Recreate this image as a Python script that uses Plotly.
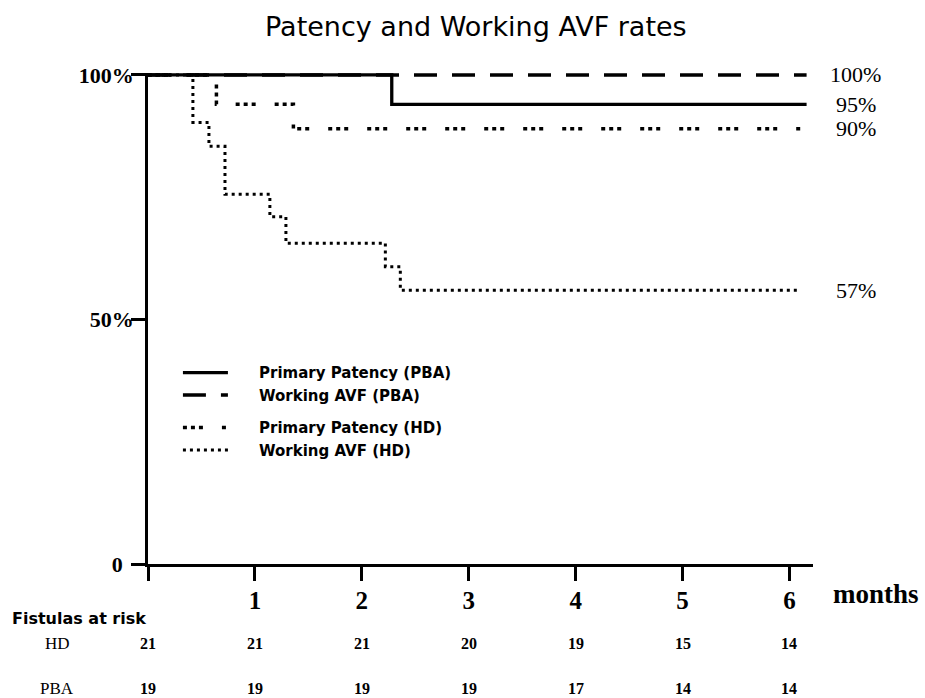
import plotly.graph_objects as go

# ---- data ----
months = [0, 1, 2, 3, 4, 5, 6]
month_labels = ["", "1", "2", "3", "4", "5", "6"]

y_ticks = [0, 50, 100]
y_tick_labels = ["0\u00a0\u00a0", "50%", "100%"]

# Kaplan-Meier step curves: time (months), percentage
pp_pba_t = [0, 2.28, 6.16]
pp_pba_v = [100, 94, 94]

wavf_pba_t = [0, 6.16]
wavf_pba_v = [100, 100]

pp_hd_t = [0, 0.64, 1.36, 6.13]
pp_hd_v = [100, 94, 89, 89]

wavf_hd_t = [0, 0.42, 0.57, 0.72, 1.14, 1.29, 2.22, 2.36, 6.09]
wavf_hd_v = [100, 90.3, 85.4, 75.6, 71.0, 65.6, 60.8, 56.0, 56.0]

end_labels = ["100%", "95%", "90%", "57%"]

risk_groups = ["HD", "PBA"]
risk_hd = [21, 21, 21, 20, 19, 15, 14]
risk_pba = [19, 19, 19, 19, 17, 14, 14]

SERIF = "Liberation Serif"
SANS = "DejaVu Sans"

X_RANGE = [0, 6.22]
Y_RANGE = [0, 100.4]


def xp(x):
    """data x -> paper fraction (annotations outside the axis range)"""
    return (x - X_RANGE[0]) / (X_RANGE[1] - X_RANGE[0])


def yp(y):
    return (y - Y_RANGE[0]) / (Y_RANGE[1] - Y_RANGE[0])


PAD = "\u00a0" * 5

fig = go.Figure()

fig.add_trace(go.Scatter(
    x=pp_hd_t, y=pp_hd_v, mode="lines", line_shape="hv",
    name=PAD + "Primary Patency (HD)", legendgroup="HD", legendrank=3,
    line=dict(color="black", width=3.5, dash="4px,4px,4px,4px,4px,19px"),
))
fig.add_trace(go.Scatter(
    x=wavf_hd_t, y=wavf_hd_v, mode="lines", line_shape="hv",
    name=PAD + "Working AVF (HD)", legendgroup="HD", legendrank=4,
    line=dict(color="black", width=3, dash="3px,4px"),
))
fig.add_trace(go.Scatter(
    x=wavf_pba_t, y=wavf_pba_v, mode="lines", line_shape="hv",
    name=PAD + "Working AVF (PBA)", legendgroup="PBA", legendrank=2,
    line=dict(color="black", width=3.5, dash="23px,15px"),
))
fig.add_trace(go.Scatter(
    x=pp_pba_t, y=pp_pba_v, mode="lines", line_shape="hv",
    name=PAD + "Primary Patency (PBA)", legendgroup="PBA", legendrank=1,
    line=dict(color="black", width=3.3),
))

annotations = []

# end-of-curve labels
end_values = [wavf_pba_v[-1], pp_pba_v[-1], pp_hd_v[-1], wavf_hd_v[-1]]
for lab, v in zip(end_labels, end_values):
    annotations.append(dict(
        x=xp(6.62), y=yp(v), xref="paper", yref="paper", text=lab,
        showarrow=False, xanchor="center", yanchor="middle",
        font=dict(family=SERIF, size=22, color="black"),
    ))

# "months" axis label
annotations.append(dict(
    x=xp(6.81), y=-0.062, xref="paper", yref="paper", text="months",
    showarrow=False, xanchor="center", yanchor="middle",
    font=dict(family=SERIF, size=27, color="black", weight="bold"),
))

# risk table
annotations.append(dict(
    x=-0.208, y=-0.111, xref="paper", yref="paper", text="Fistulas at risk",
    showarrow=False, xanchor="left", yanchor="middle",
    font=dict(family=SANS, size=16, color="black", weight="bold"),
))
row_y = [-0.1616, -0.2536]
for grp, vals, ry in zip(risk_groups, [risk_hd, risk_pba], row_y):
    annotations.append(dict(
        x=xp(-0.851), y=ry, xref="paper", yref="paper", text=grp,
        showarrow=False, xanchor="center", yanchor="middle",
        font=dict(family=SERIF, size=17, color="black"),
    ))
    for m, n in zip(months, vals):
        annotations.append(dict(
            x=xp(m), y=ry, xref="paper", yref="paper", text=str(n),
            showarrow=False, xanchor="center", yanchor="middle",
            font=dict(family=SERIF, size=16, color="black", weight="bold"),
        ))

fig.update_layout(
    width=925, height=698,
    margin=dict(l=148, r=112, t=73, b=134),
    paper_bgcolor="white", plot_bgcolor="white",
    title=dict(
        text="Patency and Working AVF rates",
        x=0.493, xref="paper", xanchor="center",
        y=1 - 27 / 698, yref="container", yanchor="middle",
        font=dict(family=SANS, size=27, color="black"),
    ),
    showlegend=True,
    legend=dict(
        x=0.045, y=0.423, xanchor="left", yanchor="top",
        traceorder="grouped", tracegroupgap=10, itemwidth=45,
        bgcolor="rgba(0,0,0,0)",
        font=dict(family=SANS, size=15, color="black", weight="bold"),
    ),
    annotations=annotations,
    xaxis=dict(
        range=X_RANGE, tickvals=months, ticktext=month_labels,
        showline=True, linecolor="black", linewidth=2.5,
        ticks="outside", ticklen=14, tickwidth=2.5, tickcolor="black",
        showgrid=False, zeroline=False, ticklabelstandoff=-2,
        tickfont=dict(family=SERIF, size=25, color="black", weight="bold"),
    ),
    yaxis=dict(
        range=Y_RANGE, tickvals=y_ticks, ticktext=y_tick_labels,
        showline=True, linecolor="black", linewidth=2.5,
        ticks="outside", ticklen=14, tickwidth=2.5, tickcolor="black",
        showgrid=False, zeroline=False, ticklabelstandoff=-7,
        tickfont=dict(family=SERIF, size=22, color="black", weight="bold"),
    ),
)

fig.write_html(
    "out.html",
    config={"displayModeBar": False},
    post_script="document.body.style.margin='0';document.body.style.overflow='hidden';",
)
